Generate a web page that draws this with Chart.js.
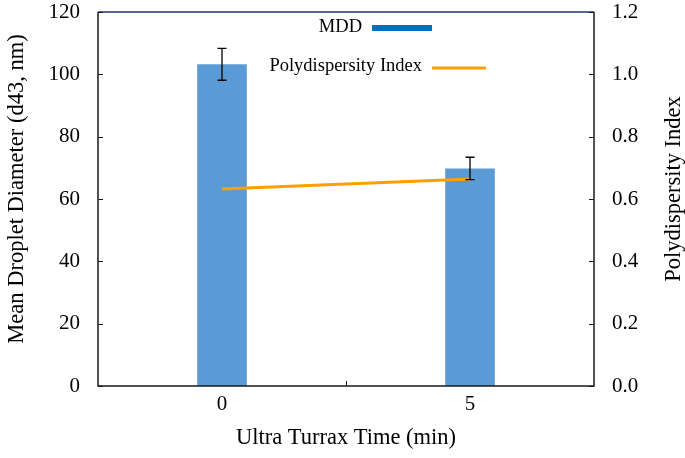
<!DOCTYPE html>
<html>
<head>
<meta charset="utf-8">
<script src="https://cdn.jsdelivr.net/npm/chart.js@4.4.1/dist/chart.umd.min.js"></script>
<style>
  html, body { margin: 0; padding: 0; background: #fff; }
  #wrap { width: 685px; height: 458px; }
</style>
</head>
<body>
<div id="wrap"><canvas id="chart" width="685" height="458"></canvas></div>
<script>
// data
const times = ['0', '5'];
const mdd = [103.2, 69.8];
const mddErr = [5.1, 3.6];
const pdi = [0.632, 0.664];
const leftTicks = [0, 20, 40, 60, 80, 100, 120];
const rightTicks = [0, 0.2, 0.4, 0.6, 0.8, 1.0, 1.2];
const leftTitle = 'Mean Droplet Diameter (d43, nm)';
const rightTitle = 'Polydispersity Index';

const serif = '"Liberation Serif", "Times New Roman", serif';

// error bars + inner ticks + frame + legend + y titles
const extras = {
  id: 'extras',
  afterDatasetsDraw(chart) {
    const ctx = chart.ctx;
    const x = chart.scales.x, y = chart.scales.y;
    ctx.save();
    ctx.strokeStyle = '#000';
    ctx.lineWidth = 1.3;
    mdd.forEach((v, i) => {
      const px = x.getPixelForValue(i);
      const top = y.getPixelForValue(v + mddErr[i]);
      const bot = y.getPixelForValue(v - mddErr[i]);
      ctx.beginPath();
      ctx.moveTo(px, top); ctx.lineTo(px, bot);
      ctx.moveTo(px - 4.5, top); ctx.lineTo(px + 4.5, top);
      ctx.moveTo(px - 4.5, bot); ctx.lineTo(px + 4.5, bot);
      ctx.stroke();
    });
    ctx.restore();
  },
  afterDraw(chart) {
    const ctx = chart.ctx;
    const a = chart.chartArea;
    const x = chart.scales.x, y = chart.scales.y, y1 = chart.scales.y1;
    ctx.save();
    ctx.lineWidth = 1.5;
    ctx.strokeStyle = '#1a1a1a';
    ctx.beginPath();
    ctx.moveTo(a.left, a.top); ctx.lineTo(a.left, a.bottom);
    ctx.lineTo(a.right, a.bottom); ctx.lineTo(a.right, a.top);
    ctx.stroke();
    ctx.strokeStyle = '#1f3864';
    ctx.beginPath();
    ctx.moveTo(a.left, a.top); ctx.lineTo(a.right, a.top);
    ctx.stroke();
    // inward ticks
    ctx.strokeStyle = '#1a1a1a';
    ctx.lineWidth = 1;
    ctx.beginPath();
    leftTicks.forEach(t => {
      const py = Math.round(y.getPixelForValue(t)) + 0.5;
      ctx.moveTo(a.left, py); ctx.lineTo(a.left + 5, py);
    });
    rightTicks.forEach(t => {
      const py = Math.round(y1.getPixelForValue(t)) + 0.5;
      ctx.moveTo(a.right, py); ctx.lineTo(a.right - 5, py);
    });
    const mid = Math.round((x.getPixelForValue(0) + x.getPixelForValue(1)) / 2) + 0.5;
    ctx.moveTo(mid, a.bottom); ctx.lineTo(mid, a.bottom - 5);
    ctx.stroke();
    // legend inside the plot
    const ds = chart.data.datasets;
    ctx.font = '18.5px ' + serif;
    ctx.fillStyle = '#000';
    ctx.textBaseline = 'middle';
    ctx.textAlign = 'right';
    ctx.fillText(ds[0].label, 362, 27);
    ctx.fillText(ds[1].label, 422, 66);
    ctx.lineWidth = 6;
    ctx.strokeStyle = '#0070c0';
    ctx.beginPath(); ctx.moveTo(372, 28); ctx.lineTo(432, 28); ctx.stroke();
    ctx.lineWidth = 3;
    ctx.strokeStyle = '#ffa000';
    ctx.beginPath(); ctx.moveTo(432, 68); ctx.lineTo(486, 68); ctx.stroke();
    // y axis titles, both read bottom-to-top
    ctx.font = '22.5px ' + serif;
    ctx.textAlign = 'center';
    [[leftTitle, 17], [rightTitle, 674]].forEach(([txt, tx]) => {
      ctx.save();
      ctx.translate(tx, 189);
      ctx.rotate(-Math.PI / 2);
      ctx.fillText(txt, 0, 0);
      ctx.restore();
    });
    ctx.restore();
  }
};

const noPad = s => { s.paddingTop = 0; s.paddingBottom = 0; };

new Chart(document.getElementById('chart'), {
  data: {
    labels: times,
    datasets: [
      {
        type: 'bar',
        label: 'MDD',
        data: mdd,
        backgroundColor: '#5b9bd5',
        borderWidth: 0,
        barPercentage: 0.2,
        categoryPercentage: 1.0,
        yAxisID: 'y',
        order: 2
      },
      {
        type: 'line',
        label: 'Polydispersity Index',
        data: pdi,
        borderColor: '#ffa000',
        borderWidth: 3,
        pointRadius: 0,
        tension: 0,
        yAxisID: 'y1',
        order: 1
      }
    ]
  },
  options: {
    responsive: false,
    animation: false,
    layout: { padding: { top: 12, right: 0, left: 0, bottom: 0 } },
    plugins: {
      legend: { display: false },
      tooltip: { enabled: false }
    },
    scales: {
      x: {
        offset: true,
        grid: { display: false, drawTicks: false },
        border: { display: false },
        ticks: { color: '#000', font: { family: serif, size: 21 }, padding: 6 },
        title: { display: true, text: 'Ultra Turrax Time (min)', color: '#000',
                 font: { family: serif, size: 22.5 }, padding: { top: 4, bottom: 6 } },
        afterFit(s) { s.height = 72; }
      },
      y: {
        position: 'left',
        min: 0, max: 120,
        afterBuildTicks(s) { s.ticks = leftTicks.map(v => ({ value: v })); },
        grid: { display: false, drawTicks: false },
        border: { display: false },
        ticks: { color: '#000', font: { family: serif, size: 21 }, padding: 18 },
        afterFit(s) { s.width = 98; noPad(s); }
      },
      y1: {
        position: 'right',
        min: 0, max: 1.2,
        afterBuildTicks(s) { s.ticks = rightTicks.map(v => ({ value: v })); },
        grid: { display: false, drawTicks: false },
        border: { display: false },
        ticks: { color: '#000', font: { family: serif, size: 21 }, padding: 18,
                 callback: v => v.toFixed(1) },
        afterFit(s) { s.width = 91; noPad(s); }
      }
    }
  },
  plugins: [extras]
});
</script>
</body>
</html>
